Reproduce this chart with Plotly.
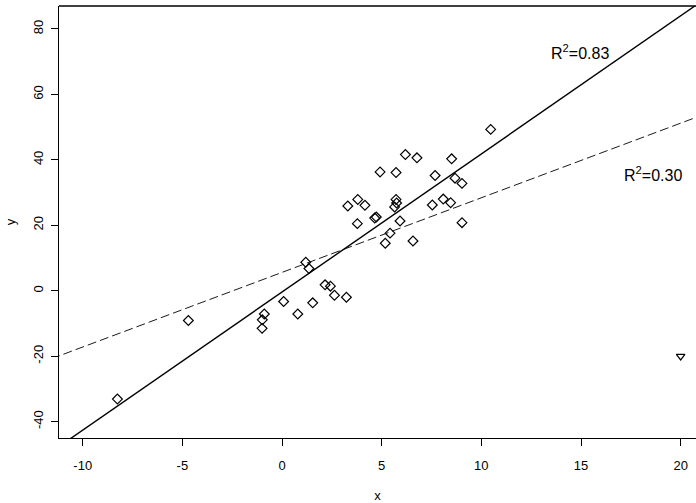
import plotly.graph_objects as go

# Data
x_vals = [-8.26, -4.70, -0.99, -0.89, -1.00, 0.08, 0.79, 1.19, 1.35, 1.54,
          2.16, 2.43, 2.63, 3.23, 3.30, 3.78, 3.80, 4.16, 4.65, 4.73,
          4.92, 5.18, 5.42, 5.65, 5.72, 5.75, 5.72, 5.92, 6.19, 6.57,
          6.77, 7.54, 7.68, 8.09, 8.46, 8.51, 8.68, 9.03, 9.03, 10.47]
y_vals = [-33.1, -9.1, -8.9, -7.1, -11.5, -3.3, -7.1, 8.7, 6.8, -3.7,
          1.8, 1.4, -1.4, -2.0, 25.9, 20.5, 27.9, 26.1, 22.2, 22.5,
          36.3, 14.5, 17.6, 25.6, 27.9, 26.8, 36.1, 21.3, 41.6, 15.2,
          40.6, 26.2, 35.2, 28.0, 26.9, 40.3, 34.4, 32.8, 20.8, 49.3]
outlier_x = [20.0]
outlier_y = [-20.0]

# Fitted lines: (intercept, slope)
fit_solid = (-0.4, 4.22)
fit_dashed = (5.6, 2.28)
r2_labels = ["R<sup>2</sup>=0.83", "R<sup>2</sup>=0.30"]
r2_pos = [(14.95, 73.0), (18.6, 35.6)]

x_range = [-11.19, 20.77]
y_range = [-45.0, 87.0]
x_ticks = [-10, -5, 0, 5, 10, 15, 20]
y_ticks = [-40, -20, 0, 20, 40, 60, 80]

FONT = "Liberation Sans, Arial, Helvetica, sans-serif"

fig = go.Figure()

def line_xy(fit):
    a, b = fit
    xs = [x_range[0] - 1, x_range[1] + 1]
    return xs, [a + b * v for v in xs]

lx, ly = line_xy(fit_solid)
fig.add_trace(go.Scatter(x=lx, y=ly, mode="lines",
                         line=dict(color="black", width=1.4), showlegend=False,
                         hoverinfo="skip"))
lx, ly = line_xy(fit_dashed)
fig.add_trace(go.Scatter(x=lx, y=ly, mode="lines",
                         line=dict(color="black", width=0.9, dash="9px,4px"),
                         showlegend=False, hoverinfo="skip"))

fig.add_trace(go.Scatter(x=x_vals, y=y_vals, mode="markers",
                         marker=dict(symbol="diamond-open", size=7.5,
                                     color="black", line=dict(width=1.2, color="black")),
                         showlegend=False))
fig.add_trace(go.Scatter(x=outlier_x, y=outlier_y, mode="markers",
                         marker=dict(symbol="triangle-down-open", size=7.5,
                                     color="black", line=dict(width=1.2, color="black")),
                         showlegend=False))

for txt, (px, py) in zip(r2_labels, r2_pos):
    fig.add_annotation(x=px, y=py, text=txt, showarrow=False,
                       xanchor="center", yanchor="middle",
                       font=dict(family=FONT, size=16, color="black"))

# top border of the plotting box
fig.add_shape(type="line", xref="paper", yref="paper", x0=0, x1=1, y0=1, y1=1,
              line=dict(color="black", width=1.3), layer="above")

fig.update_layout(
    width=696, height=503,
    margin=dict(l=59, r=0, t=6, b=65),
    plot_bgcolor="white", paper_bgcolor="white",
    font=dict(family=FONT, size=13, color="black"),
)
fig.update_xaxes(range=x_range, tickvals=x_ticks, ticktext=[str(v) for v in x_ticks],
                 showgrid=False, zeroline=False, showline=True, linecolor="black",
                 linewidth=1.3, mirror=False, ticks="outside", ticklen=7, tickwidth=1.2,
                 tickcolor="black", ticklabelstandoff=8,
                 title=dict(text="x", standoff=21, font=dict(size=13)))
fig.update_yaxes(range=y_range, tickvals=y_ticks, ticktext=[str(v) for v in y_ticks],
                 showgrid=False, zeroline=False, showline=True, linecolor="black",
                 linewidth=1.3, mirror=False, ticks="outside", ticklen=7, tickwidth=1.2,
                 tickcolor="black", tickangle=-90, ticklabelstandoff=3,
                 title=dict(text="y", standoff=12, font=dict(size=13)))

fig.write_html("out.html", config={"displayModeBar": False},
               post_script="document.body.style.margin='0';")
